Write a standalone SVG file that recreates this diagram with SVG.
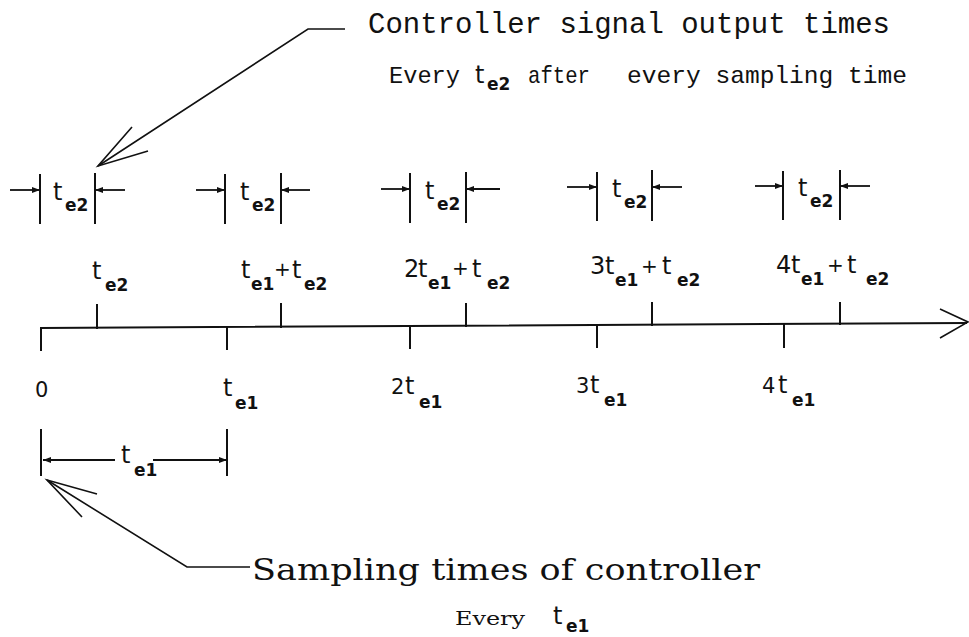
<svg xmlns="http://www.w3.org/2000/svg" width="969" height="637" viewBox="0 0 969 637">
<defs>
<marker id="ah" viewBox="0 0 8 6" markerWidth="8" markerHeight="6" refX="8" refY="3" orient="auto" markerUnits="userSpaceOnUse">
<path d="M0,0 L8,3 L0,6 z" fill="#111"/>
</marker>
</defs>
<style>
.ln{stroke:#111;stroke-width:2;fill:none;stroke-linecap:square}
.ld{stroke:#111;stroke-width:1.6;fill:none}
.dim{stroke:#111;stroke-width:1.8;fill:none;marker-end:url(#ah)}
.m{font-family:"DejaVu Sans","Liberation Sans",sans-serif;font-size:24px;fill:#111}
.p{font-family:"DejaVu Sans","Liberation Sans",sans-serif;font-size:20px;fill:#111}
.s{font-family:"DejaVu Sans","Liberation Sans",sans-serif;font-size:17px;fill:#111;font-weight:bold}
.d{font-family:"DejaVu Sans","Liberation Sans",sans-serif;font-size:21px;fill:#111}
.mono{font-family:"Liberation Mono","DejaVu Sans Mono",monospace;fill:#111}
.ser{font-family:"DejaVu Serif","Liberation Serif",serif;fill:#111}
</style>
<rect width="969" height="637" fill="#fff"/>
<g id="connectors">
<line class="ln" x1="41" y1="328" x2="966" y2="323"/>
<polyline class="ld" points="940,309 968,322 940,338"/>
<line class="ln" x1="41" y1="328" x2="41" y2="350"/>
<line class="ln" x1="227" y1="327" x2="227" y2="349"/>
<line class="ln" x1="410" y1="326" x2="410" y2="348"/>
<line class="ln" x1="597" y1="325" x2="597" y2="347"/>
<line class="ln" x1="784" y1="324" x2="784" y2="347"/>
<line class="ln" x1="97" y1="305" x2="97" y2="328"/>
<line class="ln" x1="281" y1="304" x2="281" y2="327"/>
<line class="ln" x1="466" y1="304" x2="466" y2="326"/>
<line class="ln" x1="652" y1="303" x2="652" y2="325"/>
<line class="ln" x1="840" y1="303" x2="840" y2="324"/>
<line class="ln" x1="40" y1="175" x2="40" y2="223"/><line class="ln" x1="95" y1="174" x2="95" y2="223"/>
<line class="dim" x1="10" y1="190" x2="40" y2="190"/><line class="dim" x1="125" y1="190" x2="95" y2="190"/>
<line class="ln" x1="225" y1="175" x2="225" y2="223"/><line class="ln" x1="281" y1="174" x2="281" y2="223"/>
<line class="dim" x1="196" y1="190" x2="225" y2="190"/><line class="dim" x1="310" y1="190" x2="281" y2="190"/>
<line class="ln" x1="410" y1="174" x2="410" y2="222"/><line class="ln" x1="466" y1="173" x2="466" y2="222"/>
<line class="dim" x1="381" y1="189" x2="410" y2="189"/><line class="dim" x1="500" y1="189" x2="466" y2="189"/>
<line class="ln" x1="597" y1="173" x2="597" y2="220"/><line class="ln" x1="652" y1="171" x2="652" y2="220"/>
<line class="dim" x1="567" y1="187" x2="597" y2="187"/><line class="dim" x1="682" y1="187" x2="652" y2="187"/>
<line class="ln" x1="783" y1="172" x2="783" y2="219"/><line class="ln" x1="840" y1="171" x2="840" y2="219"/>
<line class="dim" x1="755" y1="186" x2="783" y2="186"/><line class="dim" x1="870" y1="186" x2="840" y2="186"/>
<line class="ln" x1="41" y1="430" x2="41" y2="475"/>
<line class="ln" x1="227" y1="430" x2="227" y2="475"/>
<line class="dim" x1="115" y1="460" x2="43" y2="460"/>
<line class="dim" x1="153" y1="460" x2="227" y2="460"/>
<polyline class="ld" points="345,29 308,29 98,166"/>
<polyline class="ld" points="132,127 98,166 148,151"/>
<polyline class="ld" points="250,567 187,567 47,480"/>
<polyline class="ld" points="97,494 47,480 82,517"/>
</g>
<g id="title-output">
<text class="mono" x="368" y="33" font-size="29" textLength="522" lengthAdjust="spacingAndGlyphs">Controller signal output times</text>
<text class="mono" x="389" y="83" font-size="24" textLength="71" lengthAdjust="spacingAndGlyphs">Every</text>
<text class="m" x="475" y="83" font-size="22">t</text><text class="s" x="487" y="90" font-size="15">e2</text>
<text class="mono" x="528" y="83" font-size="24" textLength="62" lengthAdjust="spacingAndGlyphs">after</text>
<text class="mono" x="627" y="83" font-size="24" textLength="280" lengthAdjust="spacingAndGlyphs">every sampling time</text>
</g>
<g id="bracket-labels">
<text class="m" x="53" y="200">t</text><text class="s" x="65" y="211">e2</text>
<text class="m" x="240" y="200">t</text><text class="s" x="252" y="211">e2</text>
<text class="m" x="425" y="199">t</text><text class="s" x="437" y="210">e2</text>
<text class="m" x="612" y="197">t</text><text class="s" x="624" y="208">e2</text>
<text class="m" x="798" y="196">t</text><text class="s" x="810" y="207">e2</text>
</g>
<g id="output-labels">
<text class="m" x="92" y="279">t</text><text class="s" x="105" y="291">e2</text>
<text class="m" x="241" y="278">t</text><text class="s" x="251" y="290">e1</text><text class="p" x="274" y="276">+</text><text class="m" x="292" y="278">t</text><text class="s" x="304" y="290">e2</text>
<text class="m" x="404" y="277">2</text><text class="m" x="418" y="277">t</text><text class="s" x="428" y="289">e1</text><text class="p" x="452" y="275">+</text><text class="m" x="472" y="277">t</text><text class="s" x="487" y="289">e2</text>
<text class="m" x="590" y="274">3</text><text class="m" x="605" y="274">t</text><text class="s" x="615" y="286">e1</text><text class="p" x="641" y="273">+</text><text class="m" x="662" y="274">t</text><text class="s" x="677" y="286">e2</text>
<text class="m" x="776" y="273">4</text><text class="m" x="791" y="273">t</text><text class="s" x="801" y="285">e1</text><text class="p" x="827" y="272">+</text><text class="m" x="847" y="273">t</text><text class="s" x="866" y="285">e2</text>
</g>
<g id="sampling-labels">
<text class="d" x="35" y="397">0</text>
<text class="m" x="223" y="396">t</text><text class="s" x="235" y="409">e1</text>
<text class="d" x="391" y="394">2</text><text class="m" x="405" y="394">t</text><text class="s" x="419" y="408">e1</text>
<text class="d" x="576" y="393">3</text><text class="m" x="590" y="393">t</text><text class="s" x="604" y="406">e1</text>
<text class="d" x="762" y="393">4</text><text class="m" x="778" y="393">t</text><text class="s" x="792" y="406">e1</text>
</g>
<g id="te1-label">
<text class="m" x="121" y="463">t</text><text class="s" x="134" y="476">e1</text>
</g>
<g id="title-sampling">
<text class="ser" x="252" y="580" font-size="30" textLength="508" lengthAdjust="spacingAndGlyphs">Sampling times of controller</text>
<text class="ser" x="455" y="625" font-size="18" textLength="70" lengthAdjust="spacingAndGlyphs">Every</text>
<text class="m" x="553" y="624" font-size="20">t</text><text class="s" x="566" y="632" font-size="14">e1</text>
</g>
</svg>
